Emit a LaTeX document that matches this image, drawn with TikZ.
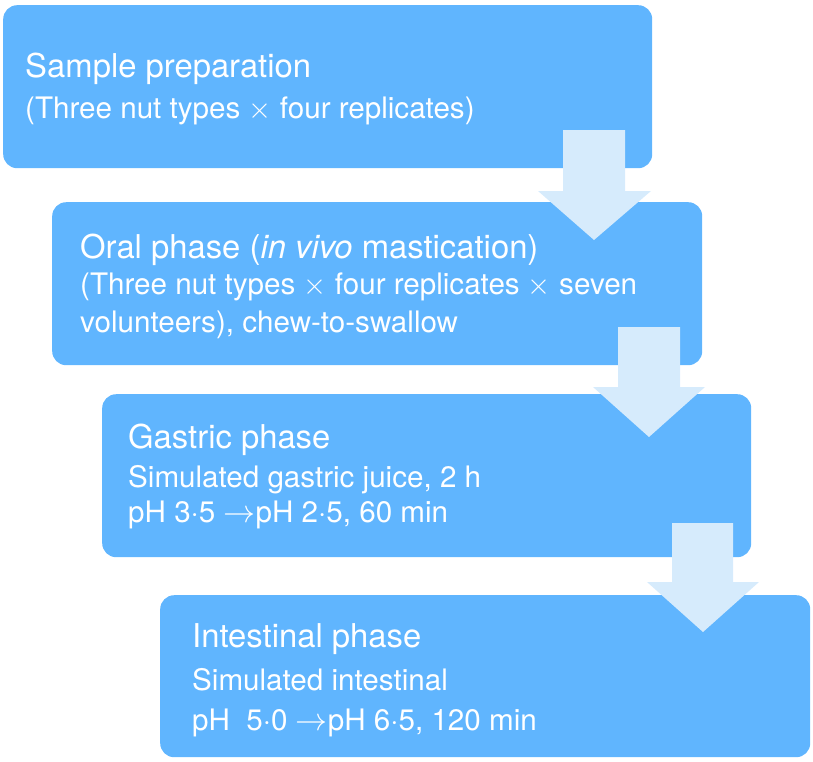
\documentclass[tikz,border=0pt]{standalone}
\usepackage{graphicx}
\usepackage{fontspec}
\setmainfont{TeX Gyre Heros}
\definecolor{boxblue}{RGB}{96,181,254}
\definecolor{arrowblue}{RGB}{214,235,252}
\tikzset{
  stagebox/.style={fill=boxblue, draw=none, rounded corners=14pt, anchor=north west, inner sep=0pt},
  titletext/.style={text=white, anchor=base west, inner sep=0pt, font=\fontsize{32.8}{38}\selectfont},
  subtext/.style={text=white, anchor=base west, inner sep=0pt, font=\fontsize{29.6}{36}\selectfont},
  blockarrow/.style={fill=arrowblue, draw=none}
}
\newcommand{\tms}{{\fontsize{10}{12}\selectfont\scalebox{2.96}{$\times$}}}
\newcommand{\toarr}{{\fontsize{10}{12}\selectfont\scalebox{3.2}{$\rightarrow$}}}
\begin{document}
\begin{tikzpicture}[x=1pt,y=-1pt]
\useasboundingbox (0,0) rectangle (813,761);
% boxes
\node[stagebox, minimum width=649pt, minimum height=163pt] (b1) at (3,5) {};
\node[stagebox, minimum width=650pt, minimum height=163pt] (b2) at (52,202) {};
\node[stagebox, minimum width=649pt, minimum height=163pt] (b3) at (102,394) {};
\node[stagebox, minimum width=650pt, minimum height=162pt] (b4) at (160,595) {};
% texts
\node[titletext] (t1) at (25,77) {Sample preparation};
\node[subtext] (s1) at (25,118) {(Three nut types \tms\ four replicates)};
\node[titletext] (t2) at (80,258) {Oral phase (\textit{in vivo} mastication)};
\node[subtext] (s2a) at (80,294) {(Three nut types \tms\ four replicates \tms\ seven};
\node[subtext] (s2b) at (80,332) {volunteers), chew-to-swallow};
\node[titletext] (t3) at (128,448) {Gastric phase};
\node[subtext] (s3a) at (128,487) {Simulated gastric juice, 2 h};
\node[subtext] (s3b) at (128,522) {pH 3·5 \toarr pH 2·5, 60 min};
\node[titletext] (t4) at (192,647) {Intestinal phase};
\node[subtext] (s4a) at (192,690) {Simulated intestinal};
\node[subtext] (s4b) at (192,730) {pH\ \ 5·0 \toarr pH 6·5, 120 min};
% block arrows
\fill[blockarrow] (563,130) -- (625,130) -- (625,191) -- (651,191) -- (594,240) -- (538,191) -- (563,191) -- cycle;
\fill[blockarrow] (618,327) -- (680,327) -- (680,387) -- (705,387) -- (649,437) -- (593,387) -- (618,387) -- cycle;
\fill[blockarrow] (672,523) -- (733,523) -- (733,582) -- (759,582) -- (703,632) -- (647,582) -- (672,582) -- cycle;
\end{tikzpicture}
\end{document}
